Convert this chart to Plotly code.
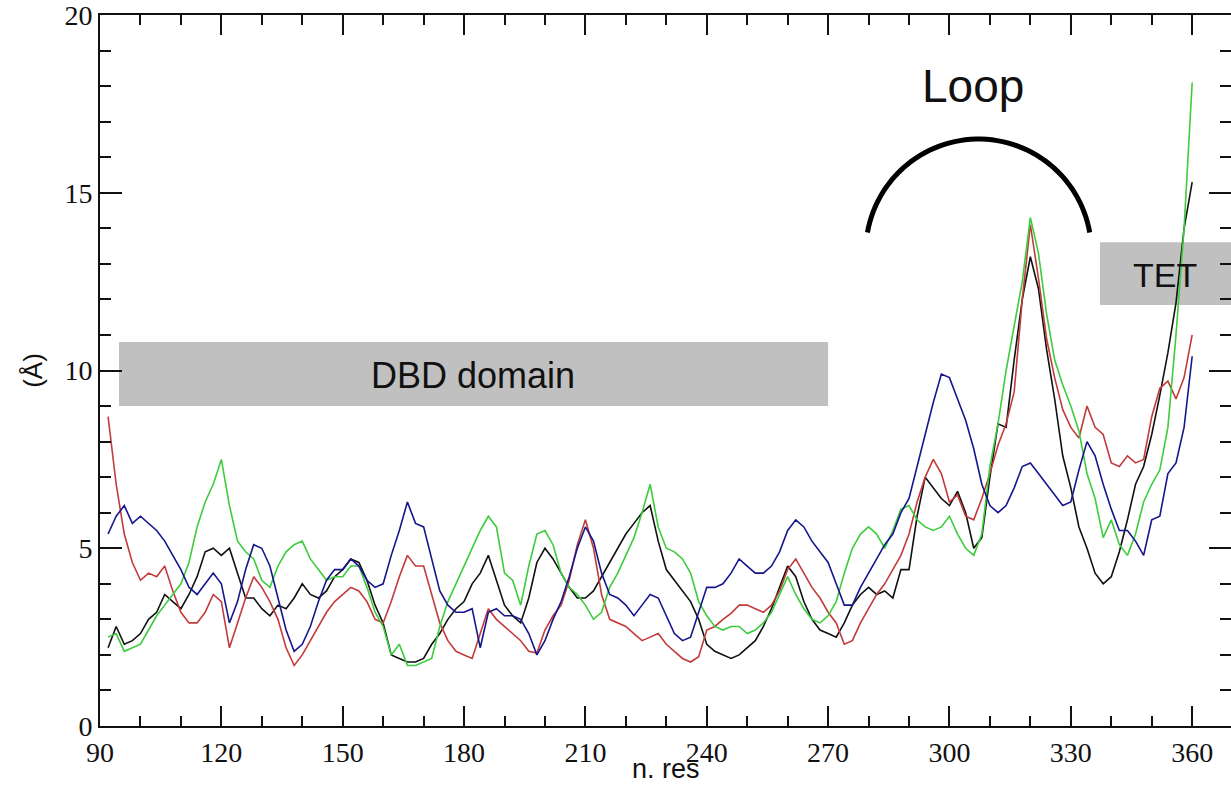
import numpy as np
import plotly.graph_objects as go

# residue numbers
res = list(range(92, 362, 2))

black_rmsf = [
    2.2, 2.8, 2.3, 2.4, 2.6, 3.0, 3.2, 3.7, 3.5, 3.3,
    3.7, 4.2, 4.9, 5.0, 4.8, 5.0, 4.3, 3.6, 3.6, 3.3,
    3.1, 3.4, 3.3, 3.6, 4.0, 3.7, 3.6, 3.8, 4.2, 4.4,
    4.7, 4.6, 4.1, 3.4, 2.9, 2.0, 1.9, 1.8, 1.8, 1.9,
    2.3, 2.6, 3.0, 3.3, 3.5, 4.0, 4.3, 4.8, 4.1, 3.4,
    3.1, 2.9, 3.6, 4.6, 5.0, 4.7, 4.3, 3.9, 3.6, 3.6,
    3.8, 4.2, 4.6, 5.0, 5.4, 5.7, 6.0, 6.2, 5.2, 4.4,
    4.1, 3.8, 3.5, 3.0, 2.3, 2.1, 2.0, 1.9, 2.0, 2.2,
    2.4, 2.8, 3.3, 3.9, 4.5, 4.2, 3.5, 3.0, 2.7, 2.6,
    2.5, 2.9, 3.4, 3.7, 3.9, 3.7, 3.8, 3.6, 4.4, 4.4,
    5.9, 7.0, 6.7, 6.4, 6.2, 6.6, 6.0, 5.0, 5.3, 7.0,
    8.5, 8.4, 10.3, 12.0, 13.2, 12.3, 10.6, 9.2, 7.6, 6.7,
    5.6, 5.0, 4.3, 4.0, 4.2, 4.9, 5.8, 6.8, 7.3, 8.2,
    9.3, 10.5, 11.9, 14.0, 15.3,
]

red_rmsf = [
    8.7, 6.8, 5.4, 4.6, 4.1, 4.3, 4.2, 4.5, 3.8, 3.2,
    2.9, 2.9, 3.2, 3.7, 3.5, 2.2, 2.9, 3.6, 4.2, 3.9,
    3.5, 3.0, 2.2, 1.7, 2.0, 2.4, 2.8, 3.2, 3.5, 3.7,
    3.9, 3.8, 3.5, 3.0, 2.9, 3.5, 4.2, 4.8, 4.5, 4.5,
    3.7, 2.9, 2.4, 2.1, 2.0, 1.9, 2.6, 3.3, 3.0, 2.8,
    2.6, 2.4, 2.1, 2.05, 2.7, 3.1, 3.4, 4.1, 5.1, 5.8,
    5.0, 3.7, 3.0, 2.9, 2.8, 2.6, 2.4, 2.5, 2.6, 2.3,
    2.1, 1.9, 1.8, 1.95, 2.7, 2.8, 3.0, 3.17, 3.4, 3.4,
    3.3, 3.2, 3.4, 3.8, 4.4, 4.7, 4.3, 3.9, 3.6, 3.2,
    2.9, 2.3, 2.4, 2.9, 3.3, 3.7, 4.0, 4.4, 4.8, 5.4,
    6.3, 7.0, 7.5, 7.1, 6.3, 6.5, 5.9, 5.8, 6.4, 7.1,
    7.9, 8.5, 9.4, 12.0, 14.1, 12.6, 10.9, 9.8, 8.9, 8.4,
    8.1, 9.0, 8.4, 8.2, 7.4, 7.3, 7.6, 7.4, 7.5, 8.7,
    9.5, 9.7, 9.2, 9.8, 11.0,
]

green_rmsf = [
    2.5, 2.6, 2.1, 2.2, 2.3, 2.7, 3.1, 3.4, 3.7, 4.0,
    4.6, 5.6, 6.3, 6.8, 7.5, 6.2, 5.2, 4.9, 4.7, 4.1,
    3.9, 4.5, 4.9, 5.1, 5.2, 4.7, 4.4, 4.1, 4.2, 4.2,
    4.5, 4.5, 3.9, 3.2, 2.8, 2.0, 2.3, 1.7, 1.7, 1.8,
    1.9, 2.8, 3.5, 4.0, 4.5, 5.0, 5.5, 5.9, 5.6, 4.3,
    4.1, 3.4, 4.5, 5.4, 5.5, 5.1, 4.3, 3.9, 3.7, 3.4,
    3.0, 3.2, 3.9, 4.3, 4.8, 5.3, 6.0, 6.8, 5.6, 5.0,
    4.9, 4.7, 4.3, 3.5, 3.1, 2.8, 2.7, 2.8, 2.8, 2.6,
    2.7, 2.9, 3.2, 3.7, 4.2, 3.7, 3.3, 3.0, 2.9, 3.1,
    3.5, 4.3, 5.0, 5.4, 5.6, 5.4, 5.0, 5.5, 6.1, 6.2,
    5.8, 5.6, 5.5, 5.6, 5.9, 5.4, 5.0, 4.8, 5.4, 7.3,
    8.5, 10.0, 11.2, 12.5, 14.3, 13.3, 11.6, 10.3, 9.6, 9.0,
    8.3, 7.1, 6.4, 5.3, 5.8, 5.1, 4.8, 5.4, 6.3, 6.8,
    7.2, 8.4, 11.0, 14.0, 18.1,
]

blue_rmsf = [
    5.4, 5.9, 6.2, 5.7, 5.9, 5.7, 5.5, 5.2, 4.8, 4.4,
    3.9, 3.7, 4.0, 4.3, 4.0, 2.9, 3.5, 4.4, 5.1, 5.0,
    4.5, 3.6, 2.7, 2.1, 2.3, 2.8, 3.5, 4.1, 4.4, 4.4,
    4.7, 4.5, 4.1, 3.9, 4.0, 4.8, 5.5, 6.3, 5.7, 5.6,
    4.7, 3.8, 3.4, 3.2, 3.2, 3.3, 2.2, 3.2, 3.3, 3.1,
    3.1, 3.0, 2.6, 2.0, 2.4, 3.0, 3.5, 4.2, 5.0, 5.6,
    5.2, 4.3, 3.7, 3.6, 3.4, 3.1, 3.4, 3.7, 3.6, 3.1,
    2.6, 2.4, 2.5, 3.2, 3.9, 3.9, 4.0, 4.3, 4.7, 4.5,
    4.3, 4.3, 4.5, 4.9, 5.5, 5.8, 5.6, 5.2, 4.9, 4.6,
    4.0, 3.4, 3.4, 3.9, 4.3, 4.7, 5.1, 5.4, 6.0, 6.4,
    7.3, 8.2, 9.1, 9.9, 9.8, 9.2, 8.6, 7.8, 6.8, 6.2,
    6.0, 6.2, 6.7, 7.3, 7.4, 7.1, 6.8, 6.5, 6.2, 6.3,
    7.2, 8.0, 7.6, 6.8, 6.1, 5.5, 5.5, 5.2, 4.8, 5.8,
    5.9, 7.1, 7.4, 8.4, 10.4,
]

x_ticks = [90, 120, 150, 180, 210, 240, 270, 300, 330, 360]
y_ticks = [0, 5, 10, 15, 20]

series = [
    ("black", black_rmsf, "#111111"),
    ("red", red_rmsf, "#c23b3b"),
    ("green", green_rmsf, "#3dcc3d"),
    ("blue", blue_rmsf, "#16168c"),
]

X_RANGE = [90, 369.6]
Y_RANGE = [0, 20]

fig = go.Figure()
for name, ys, col in series:
    fig.add_trace(go.Scatter(x=res, y=ys, mode="lines", name=name,
                             line=dict(color=col, width=1.6),
                             showlegend=False, hoverinfo="skip"))

# invisible trace for the mirrored right axis
fig.add_trace(go.Scatter(x=[None], y=[None], xaxis="x", yaxis="y2",
                         showlegend=False, hoverinfo="skip"))

SERIF = "Liberation Serif, Times New Roman, serif"
SANS = "Liberation Sans, Arial, sans-serif"
tick_font = dict(family=SERIF, size=28, color="#111111")

fig.update_layout(
    width=1231, height=787,
    margin=dict(l=100, r=0, t=15, b=61, pad=0),
    paper_bgcolor="white", plot_bgcolor="white",
    xaxis=dict(
        range=X_RANGE, tickmode="array", tickvals=x_ticks,
        ticktext=[str(v) for v in x_ticks],
        ticks="inside", ticklen=20, tickwidth=2, tickcolor="#111111",
        minor=dict(dtick=10, tick0=90, ticks="inside", ticklen=10,
                   tickwidth=2, tickcolor="#111111", showgrid=False),
        showline=True, linewidth=2, linecolor="#111111", mirror="ticks",
        showgrid=False, zeroline=False, tickfont=tick_font,
        ticklabeloverflow="allow",
        automargin=False,
    ),
    yaxis=dict(
        range=Y_RANGE, tickmode="array", tickvals=y_ticks,
        ticktext=[str(v) for v in y_ticks],
        ticks="inside", ticklen=22, tickwidth=2, tickcolor="#111111",
        minor=dict(dtick=1, tick0=0, ticks="inside", ticklen=11,
                   tickwidth=2, tickcolor="#111111", showgrid=False),
        showline=True, linewidth=2, linecolor="#111111", mirror=False,
        showgrid=False, zeroline=False, tickfont=tick_font,
        ticklabeloverflow="allow",
        title=dict(text="(Å)", standoff=14,
                   font=dict(family=SANS, size=26, color="#111111")),
        automargin=False,
    ),
    yaxis2=dict(
        range=Y_RANGE, overlaying="y", side="right",
        tickmode="array", tickvals=y_ticks, showticklabels=False,
        ticks="inside", ticklen=22, tickwidth=2, tickcolor="#111111",
        minor=dict(dtick=1, tick0=0, ticks="inside", ticklen=11,
                   tickwidth=2, tickcolor="#111111", showgrid=False),
        showline=False, showgrid=False, zeroline=False, automargin=False,
    ),
)

# x-axis title placed below the tick labels (bottom edge just inside the page)
fig.add_annotation(xref="paper", yref="paper", x=0.5, y=-0.0845,
                   text="n. res", showarrow=False,
                   font=dict(family=SANS, size=27, color="#111111"),
                   xanchor="center", yanchor="bottom")

# grey domain boxes
fig.add_shape(type="rect", x0=94.7, x1=270, y0=9.0, y1=10.8,
              fillcolor="#c0c0c0", line=dict(width=0), layer="below")
fig.add_shape(type="rect", x0=337.2, x1=372, y0=11.84, y1=13.61,
              fillcolor="#c0c0c0", line=dict(width=0), layer="below")

fig.add_annotation(x=182.2, y=9.85, text="DBD domain", showarrow=False,
                   font=dict(family=SANS, size=36, color="#111111"),
                   xanchor="center", yanchor="middle")
fig.add_annotation(x=353.2, y=12.7, text="TET", showarrow=False,
                   font=dict(family=SANS, size=34, color="#111111"),
                   xanchor="center", yanchor="middle")
fig.add_annotation(x=305.7, y=18.0, text="Loop", showarrow=False,
                   font=dict(family=SANS, size=46, color="#111111"),
                   xanchor="center", yanchor="middle")

# loop arc (decoration)
cx, cy, rx, ry = 307.2, 13.33, 27.9, 3.18
ang = np.linspace(np.deg2rad(10), np.deg2rad(170), 60)
pts = [(cx + rx * np.cos(a), cy + ry * np.sin(a)) for a in ang]
path = "M " + " L ".join(f"{px:.3f},{py:.3f}" for px, py in pts)
fig.add_shape(type="path", path=path, line=dict(color="#000000", width=5))

fig.write_html("out.html")
